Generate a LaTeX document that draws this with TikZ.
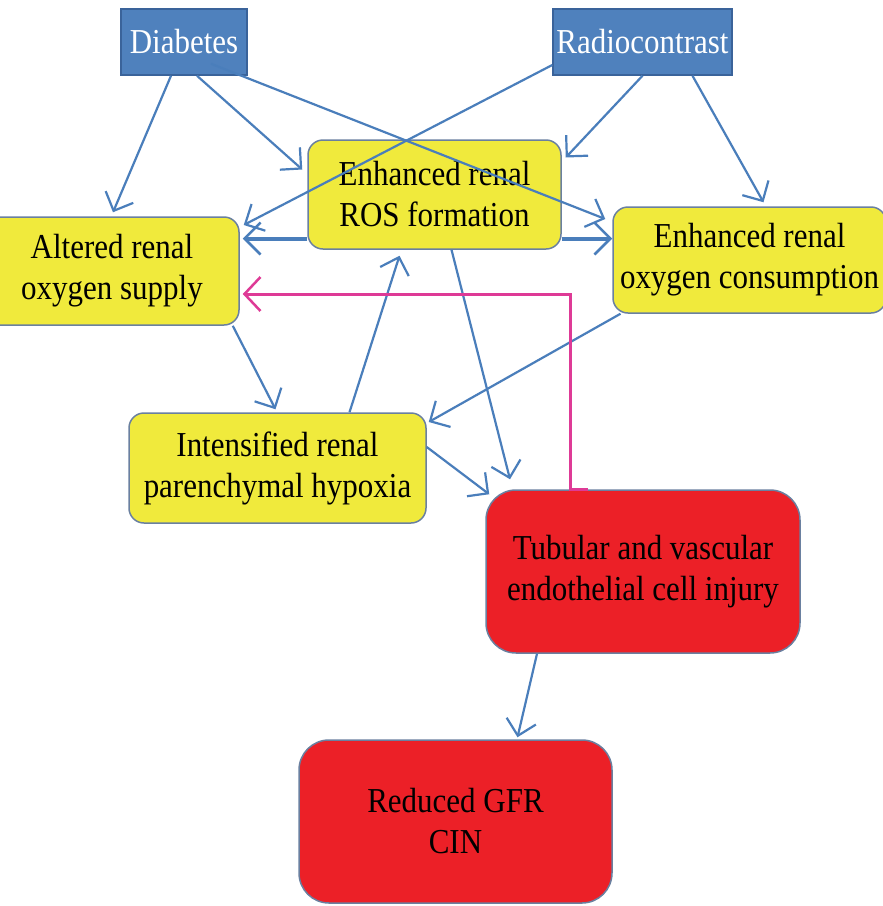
\documentclass[tikz,border=0pt]{standalone}
\usepackage{fontspec}
\setmainfont[FakeStretch=0.885]{Liberation Serif}
\usetikzlibrary{arrows.meta}
\definecolor{srcfill}{HTML}{4F81BD}
\definecolor{srcline}{HTML}{3A639A}
\definecolor{yfill}{HTML}{F0EA3C}
\definecolor{yline}{HTML}{6A80A0}
\definecolor{rfill}{HTML}{EC2027}
\definecolor{arrowblue}{HTML}{4A7EBB}
\definecolor{pinkline}{HTML}{DE3A96}
\begin{document}
\begin{tikzpicture}[x=1pt,y=-1pt,
  txt/.style={font=\fontsize{35}{41}\selectfont, align=center, inner sep=0pt, rectangle},
  srcbox/.style={txt, draw=srcline, fill=srcfill, text=white, line width=1.5pt},
  yellowbox/.style={txt, draw=yline, fill=yfill, text=black, line width=1.5pt, rounded corners=15pt},
  redbox/.style={txt, draw=yline, fill=rfill, text=black, line width=1.5pt, rounded corners=30pt},
  arr/.style={draw=arrowblue, line width=2.2pt, -{Straight Barb[length=15pt,width=30pt]}},
  thickarr/.style={draw=arrowblue, line width=4pt, -{Straight Barb[length=16pt,width=32pt,line width=2.5pt]}},
  pinkarr/.style={draw=pinkline, line width=3pt, -{Straight Barb[length=16pt,width=34pt,line width=2.5pt]}}
]
\useasboundingbox (0,0) rectangle (883,906);
\fill[white] (0,0) rectangle (883,906);

% nodes
\node[srcbox, minimum width=126pt, minimum height=66pt] (dia) at (184,42) {Diabetes};
\node[srcbox, minimum width=179pt, minimum height=66pt] (rad) at (642.5,42) {Radiocontrast};
\node[yellowbox, minimum width=253pt, minimum height=109pt] (ros) at (434.5,194.5) {Enhanced renal\\ROS formation};
\node[yellowbox, minimum width=254pt, minimum height=108pt] (alt) at (112,271) {Altered renal\\oxygen supply};
\node[yellowbox, minimum width=273pt, minimum height=106pt] (con) at (749.5,260) {Enhanced renal\\oxygen consumption};
\node[yellowbox, minimum width=297pt, minimum height=110pt] (hyp) at (277.5,468) {Intensified renal\\parenchymal hypoxia};
\node[redbox, minimum width=314pt, minimum height=163pt] (inj) at (643,571.5) {Tubular and vascular\\endothelial cell injury};
\node[redbox, minimum width=313pt, minimum height=163pt] (gfr) at (455.5,821.5) {Reduced GFR\\CIN};

% connectors
\draw[arr] ([xshift=-13pt]dia.south) -- ([xshift=1pt,yshift=4pt]alt.north);
\draw[arr] ([xshift=13pt]dia.south) -- ([xshift=-5pt,yshift=25pt]ros.west);
\draw[arr] ([xshift=27pt,yshift=12pt]dia.south) -- ([xshift=-7pt,yshift=41pt]con.west);
\draw[arr] ([yshift=-23pt]rad.west) -- ([xshift=4pt,yshift=46pt]alt.east);
\draw[arr] (rad.south) -- ([xshift=4pt,yshift=37pt]ros.east);
\draw[arr] ([xshift=50pt]rad.south) -- ([xshift=14pt,yshift=4pt]con.north);
\draw[thickarr] ([yshift=-44pt]ros.west) -- ([yshift=-44pt,xshift=3pt]ros.west -| alt.east);
\draw[thickarr] ([yshift=-44pt]ros.east) -- ([yshift=-44pt]ros.east -| con.west);
\draw[arr] ([xshift=-7pt]alt.south east) -- ([xshift=-2pt,yshift=3pt]hyp.north);
\draw[arr] ([xshift=72pt]hyp.north) -- ([xshift=-35pt,yshift=-6pt]ros.south);
\draw[arr] ([xshift=17pt]ros.south) -- ([xshift=-133pt,yshift=10pt]inj.north);
\draw[arr] ([xshift=-129pt]con.south) -- ([xshift=2pt,yshift=46pt]hyp.east);
\draw[arr] ([yshift=21pt]hyp.east) -- ([xshift=4pt,yshift=-5pt]inj.north west);
\draw[arr] ([xshift=-106pt]inj.south) -- ([xshift=62pt,yshift=2pt]gfr.north);
\draw[pinkarr] ([xshift=-55pt]inj.north) -- ([xshift=-73pt]inj.north) |- ([xshift=3pt,yshift=-23pt]alt.east);
\end{tikzpicture}
\end{document}
